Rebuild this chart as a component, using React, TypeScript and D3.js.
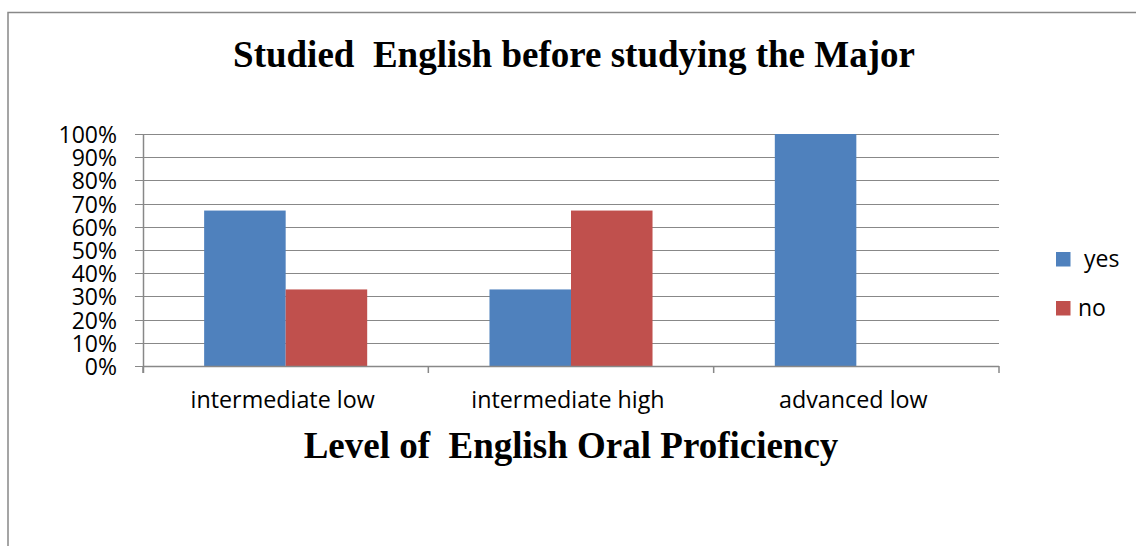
import React from "react";
import * as d3 from "d3";

const categories = ["intermediate low", "intermediate high", "advanced low"];
const seriesNames = ["yes", "no"];
const legendLabels = [" yes", "no"];
const yesValues = [0.67, 0.33, 1.0];
const noValues = [0.33, 0.67, 0];
const yTicks = [0, 0.1, 0.2, 0.3, 0.4, 0.5, 0.6, 0.7, 0.8, 0.9, 1.0];
const colors = ["#4F81BD", "#C0504D"];
const titleText = "Studied  English before studying the Major";
const xAxisTitle = "Level of  English Oral Proficiency";

export default function App() {
  const W = 1136;
  const H = 546;
  const left = 143;
  const right = 999;
  const top = 134;
  const bottom = 366;

  const x0 = d3.scaleBand<string>().domain(categories).range([left, right]).paddingInner(0).paddingOuter(0);
  const bw = x0.bandwidth();
  const barW = bw / 3.5;
  const x1 = d3.scaleBand<string>().domain(seriesNames).range([(bw - 2 * barW) / 2, (bw + 2 * barW) / 2]);
  const y = d3.scaleLinear().domain([0, 1]).range([bottom, top]);
  const fmt = d3.format(".0%");
  const seriesValues = [yesValues, noValues];
  const sans = "'Open Sans', 'Noto Sans', sans-serif";
  const serif = "'Liberation Serif', 'Times New Roman', serif";
  const grid = "#888888";

  const catTickXs = [left, ...categories.map((c) => (x0(c) as number) + bw)];

  return (
    <svg
      width={W}
      height={H}
      style={{ position: "absolute", left: 0, top: 0, background: "#fff" }}
    >
      <rect x={0} y={0} width={W} height={H} fill="#fff" />
      {/* chart border */}
      <rect x={8} y={12.5} width={1300} height={700} fill="none" stroke={grid} strokeWidth={1.5} />

      {/* title */}
      <text
        x={574}
        y={67}
        textAnchor="middle"
        fontFamily={serif}
        fontWeight="bold"
        fontSize={37}
        style={{ whiteSpace: "pre" }}
        fill="#000"
      >
        {titleText}
      </text>

      {/* gridlines + y tick marks */}
      {yTicks.map((t) => (
        <line
          key={"g" + t}
          x1={left - 8}
          x2={right}
          y1={Math.round(y(t)) + 0.5}
          y2={Math.round(y(t)) + 0.5}
          stroke={grid}
          strokeWidth={1.2}
        />
      ))}
      {yTicks.map((t) => (
        <text
          key={"l" + t}
          x={117}
          y={y(t)}
          textAnchor="end"
          dominantBaseline="central"
          fontFamily={sans}
          fontSize={23}
          fill="#000"
        >
          {fmt(t)}
        </text>
      ))}

      {/* bars */}
      {categories.map((c, i) => (
        <g key={c} transform={`translate(${x0(c)},0)`}>
          {seriesNames.map((s, j) => {
            const v = seriesValues[j][i];
            if (v <= 0) return null;
            return (
              <rect
                key={s}
                x={x1(s)}
                y={y(v)}
                width={x1.bandwidth()}
                height={y(0) - y(v)}
                fill={colors[j]}
              />
            );
          })}
        </g>
      ))}

      {/* y axis */}
      <line x1={left + 0.5} x2={left + 0.5} y1={top} y2={bottom + 7} stroke={grid} strokeWidth={1.5} />
      {/* x axis */}
      <line x1={left} x2={right} y1={Math.round(y(0)) + 0.5} y2={Math.round(y(0)) + 0.5} stroke={grid} strokeWidth={1.5} />
      {catTickXs.map((tx, i) => (
        <line key={"ct" + i} x1={tx} x2={tx} y1={bottom} y2={bottom + 7} stroke={grid} strokeWidth={1.5} />
      ))}

      {/* category labels */}
      {categories.map((c) => (
        <text
          key={"c" + c}
          x={(x0(c) as number) + bw / 2 - 3}
          y={408}
          textAnchor="middle"
          fontFamily={sans}
          fontSize={23.3}
          fill="#000"
        >
          {c}
        </text>
      ))}

      {/* x axis title */}
      <text
        x={571}
        y={458}
        textAnchor="middle"
        fontFamily={serif}
        fontWeight="bold"
        fontSize={37}
        style={{ whiteSpace: "pre" }}
        fill="#000"
      >
        {xAxisTitle}
      </text>

      {/* legend */}
      {legendLabels.map((lab, j) => (
        <g key={"lg" + j} transform={`translate(1056,${252 + j * 49})`}>
          <rect x={0} y={0} width={14.5} height={14.5} fill={colors[j]} />
          <text
            x={22}
            y={15}
            fontFamily={sans}
            fontSize={23}
            style={{ whiteSpace: "pre" }}
            fill="#000"
          >
            {lab}
          </text>
        </g>
      ))}
    </svg>
  );
}
